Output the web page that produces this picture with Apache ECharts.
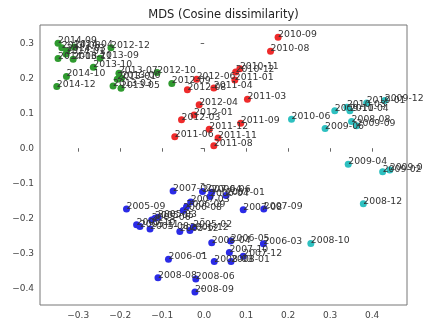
<!DOCTYPE html>
<html>
<head>
<meta charset="utf-8">
<script src="https://cdn.jsdelivr.net/npm/echarts@6/dist/echarts.min.js"></script>
<style>html,body{margin:0;padding:0;background:#fff}#c{width:423px;height:324px}</style>
</head>
<body>
<div id="c"></div>
<script>
const xTicks = [-0.3, -0.2, -0.1, 0.0, 0.1, 0.2, 0.3, 0.4];
const yTicks = [-0.4, -0.3, -0.2, -0.1, 0.0, 0.1, 0.2, 0.3];

const greenPoints = [
  [-0.351, 0.176, '2014-12'], [-0.328, 0.205, '2014-10'], [-0.264, 0.231, '2013-10'],
  [-0.348, 0.256, '2014-06'], [-0.312, 0.254, '2013-11'], [-0.248, 0.257, '2013-09'],
  [-0.222, 0.287, '2012-12'], [-0.348, 0.300, '2014-09'], [-0.339, 0.287, '2014-08'],
  [-0.327, 0.278, '2014-03'], [-0.310, 0.289, '2014-04'], [-0.329, 0.269, '2014-01'],
  [-0.203, 0.214, '2013-07'], [-0.197, 0.200, '2013-06'], [-0.207, 0.197, '2013-01'],
  [-0.217, 0.178, '2013-03'], [-0.198, 0.171, '2013-05'], [-0.112, 0.216, '2012-10'],
  [-0.077, 0.185, '2012-09']
];
const redPoints = [
  [0.176, 0.317, '2010-09'], [0.158, 0.277, '2010-08'], [0.085, 0.227, '2010-11'],
  [0.075, 0.218, '2010-12'], [0.073, 0.195, '2011-01'], [-0.018, 0.197, '2012-06'],
  [-0.040, 0.167, '2012-08'], [0.023, 0.172, '2011-04'], [0.103, 0.140, '2011-03'],
  [-0.012, 0.124, '2012-04'], [-0.024, 0.095, '2012-01'], [-0.054, 0.081, '2012-03'],
  [0.087, 0.071, '2011-09'], [0.012, 0.054, '2011-12'], [-0.070, 0.033, '2011-06'],
  [0.033, 0.029, '2011-11'], [0.023, 0.007, '2011-08']
];
const cyanPoints = [
  [0.208, 0.083, '2010-06'], [0.288, 0.056, '2009-06'], [0.311, 0.107, '2009-11'],
  [0.340, 0.117, '2010-03'], [0.347, 0.107, '2010-04'], [0.387, 0.129, '2010-01'],
  [0.430, 0.136, '2009-12'], [0.351, 0.076, '2008-08'], [0.363, 0.064, '2009-09'],
  [0.343, -0.046, '2009-04'], [0.425, -0.067, '2009-02'], [0.442, -0.062, '2009-01'],
  [0.379, -0.159, '2008-12'], [0.254, -0.272, '2008-10']
];
const bluePoints = [
  [-0.185, -0.174, '2005-09'], [-0.074, -0.122, '2007-02'], [-0.004, -0.124, '2007-04'],
  [0.018, -0.126, '2006-06'], [0.014, -0.138, '2006-04'], [0.052, -0.135, '2007-01'],
  [-0.032, -0.154, '2007-03'], [-0.042, -0.167, '2006-09'], [-0.050, -0.178, '2006-08'],
  [0.093, -0.176, '2007-08'], [0.142, -0.174, '2007-09'], [-0.161, -0.219, '2005-10'],
  [-0.153, -0.224, '2005-11'], [-0.129, -0.231, '2005-08'], [-0.125, -0.205, '2005-06'],
  [-0.117, -0.200, '2005-05'], [-0.110, -0.197, '2005-03'], [-0.058, -0.238, '2005-12'],
  [-0.034, -0.235, '2006-12'], [-0.026, -0.226, '2005-02'], [0.018, -0.270, '2008-04'],
  [0.063, -0.265, '2006-05'], [0.141, -0.273, '2006-03'], [0.060, -0.298, '2007-10'],
  [0.093, -0.309, '2007-12'], [-0.085, -0.317, '2006-01'], [0.024, -0.324, '2008-03'],
  [0.064, -0.324, '2008-01'], [-0.110, -0.370, '2008-08'], [-0.020, -0.374, '2008-06'],
  [-0.022, -0.411, '2008-09']
];

const FONT = 'DejaVu Sans';
const fmt = v => (v < 0 ? '\u2212' : '') + Math.abs(v).toFixed(1);

function mk(data, color) {
  return {
    type: 'scatter',
    data: data,
    symbolSize: 7,
    itemStyle: { color: color, opacity: 1 },
    label: {
      show: true,
      formatter: p => p.data[2],
      position: [3.5, 5.5],
      align: 'left',
      verticalAlign: 'bottom',
      fontFamily: FONT,
      fontSize: 9.3,
      color: '#333'
    },
    emphasis: { disabled: true },
    animation: false
  };
}

const chart = echarts.init(document.getElementById('c'), null, { renderer: 'canvas' });
chart.setOption({
  animation: false,
  title: {
    text: 'MDS (Cosine dissimilarity)',
    left: 223.5, top: 9, textAlign: 'center', padding: 0,
    textStyle: { fontFamily: FONT, fontSize: 11.5, fontWeight: 'normal', color: '#222' }
  },
  grid: { left: 40, right: 16, top: 25, bottom: 19, show: true, borderColor: '#777', borderWidth: 1, backgroundColor: 'transparent' },
  xAxis: {
    type: 'value', min: -0.391, max: 0.483,
    axisLine: { show: false },
    splitLine: { show: false },
    axisTick: { show: true, customValues: xTicks, length: 3.5, lineStyle: { color: '#666' } },
    axisLabel: { customValues: xTicks, formatter: fmt, fontFamily: FONT, fontSize: 9, color: '#444', margin: 6 }
  },
  yAxis: {
    type: 'value', min: -0.448, max: 0.352,
    axisLine: { show: false },
    splitLine: { show: false },
    axisTick: { show: true, customValues: yTicks, length: 3.5, lineStyle: { color: '#666' } },
    axisLabel: { customValues: yTicks, formatter: fmt, fontFamily: FONT, fontSize: 9, color: '#444', margin: 6 }
  },
  series: [
    mk(greenPoints, '#2f9a2f'),
    mk(redPoints, '#ee2b2b'),
    mk(cyanPoints, '#2ec0c0'),
    mk(bluePoints, '#2b2be6')
  ]
});
</script>
</body>
</html>
